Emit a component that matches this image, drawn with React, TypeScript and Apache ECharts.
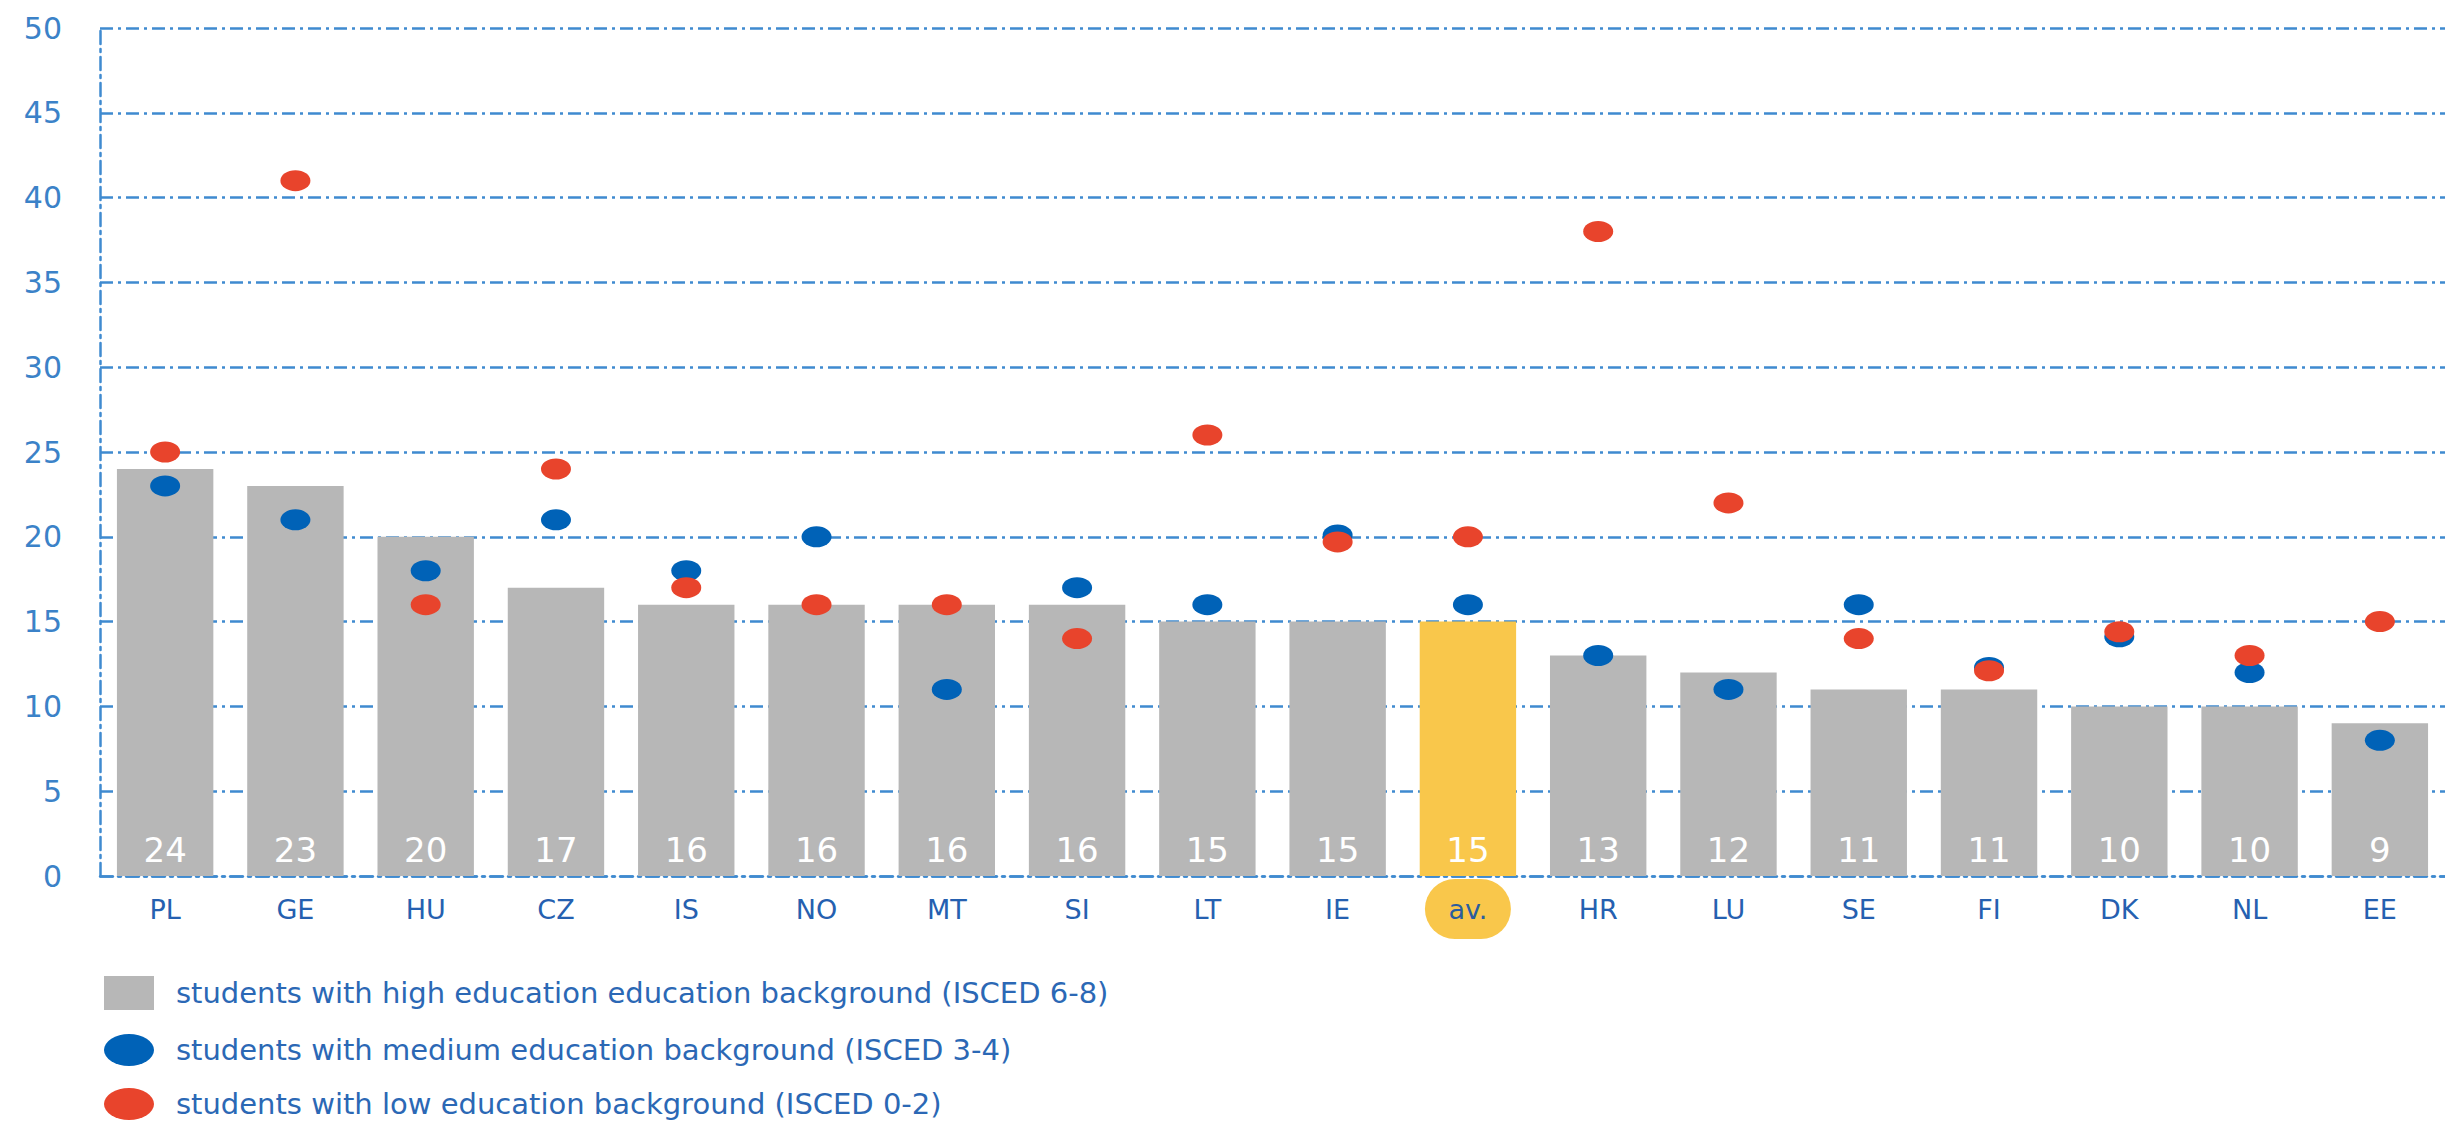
import React, { useEffect, useRef } from "react";
import * as echarts from "echarts";

const categories = ["PL", "GE", "HU", "CZ", "IS", "NO", "MT", "SI", "LT", "IE", "av.", "HR", "LU", "SE", "FI", "DK", "NL", "EE"];
const highValues = [24, 23, 20, 17, 16, 16, 16, 16, 15, 15, 15, 13, 12, 11, 11, 10, 10, 9];
const mediumValues = [23, 21, 18, 21, 18, 20, 11, 17, 16, 20.1, 16, 13, 11, 16, 12.3, 14.1, 12, 8];
const lowValues = [25, 41, 16, 24, 17, 16, 16, 14, 26, 19.7, 20, 38, 22, 14, 12.1, 14.4, 13, 15];
const yTicks = { min: 0, max: 50, interval: 5 };
const seriesNames = [
  "students with high education education background (ISCED 6-8)",
  "students with medium education background (ISCED 3-4)",
  "students with low education background (ISCED 0-2)",
];

const GRAY = "#b7b7b7";
const YELLOW = "#f9c74b";
const BLUE_DOT = "#0062b7";
const RED_DOT = "#e8442c";
const GRID_BLUE = "#3f8ad0";
const FONT = "DejaVu Sans";
const ELLIPSE = "path://M50 0A50 50 0 1 1 50 100A50 50 0 1 1 50 0Z";
const DASHDOT = [13, 5, 3, 5];

const legendIcons = ["rect", ELLIPSE, ELLIPSE];
const legendTops = [976, 1034, 1088];

export default function App() {
  const ref = useRef<HTMLDivElement>(null);
  useEffect(() => {
    if (!ref.current) return;
    const chart = echarts.init(ref.current, null, { renderer: "svg" });
    chart.setOption({
      animation: false,
      backgroundColor: "#ffffff",
      grid: { left: 100, top: 28, right: -8, bottom: 249, containLabel: false },
      legend: seriesNames.map((name, i) => ({
        orient: "horizontal",
        left: 104,
        top: legendTops[i],
        padding: 0,
        itemWidth: 50,
        itemHeight: i === 0 ? 34 : 32,
        symbolKeepAspect: false,
        textStyle: { fontFamily: FONT, fontSize: 29, color: "#2b68b5", padding: [0, 0, 0, 17] },
        data: [{ name, icon: legendIcons[i] }],
      })),
      xAxis: {
        type: "category",
        data: categories,
        axisLine: { show: true, lineStyle: { color: GRID_BLUE, width: 2.5, type: DASHDOT } },
        axisTick: { show: false },
        axisLabel: {
          margin: 3,
          interval: 0,
          formatter: (v: string) => (v === "av." ? `{a|${v}}` : `{n|${v}}`),
          rich: {
            n: { fontFamily: FONT, fontSize: 27, color: "#2560b0", height: 60, lineHeight: 60, align: "center" },
            a: {
              fontFamily: FONT,
              fontSize: 27,
              color: "#2b5d9e",
              height: 60,
              lineHeight: 60,
              width: 86,
              align: "center",
              backgroundColor: YELLOW,
              borderRadius: 30,
            },
          },
        },
      },
      yAxis: {
        type: "value",
        min: yTicks.min,
        max: yTicks.max,
        interval: yTicks.interval,
        axisLine: { show: true, lineStyle: { color: GRID_BLUE, width: 2.5, type: DASHDOT } },
        axisTick: { show: false },
        axisLabel: { fontFamily: FONT, fontSize: 30, color: "#3b82c8", margin: 38 },
        splitLine: { show: true, lineStyle: { color: GRID_BLUE, width: 2.5, type: DASHDOT } },
      },
      series: [
        {
          name: seriesNames[0],
          type: "bar",
          barWidth: "74%",
          itemStyle: { color: GRAY },
          data: highValues.map((v, i) => (categories[i] === "av." ? { value: v, itemStyle: { color: YELLOW } } : v)),
          label: {
            show: true,
            position: "insideBottom",
            distance: 9,
            color: "#ffffff",
            fontFamily: FONT,
            fontSize: 34,
          },
          z: 2,
        },
        {
          name: seriesNames[1],
          type: "scatter",
          symbol: ELLIPSE,
          symbolSize: [30, 21],
          itemStyle: { color: BLUE_DOT, opacity: 1 },
          data: mediumValues,
          z: 3,
        },
        {
          name: seriesNames[2],
          type: "scatter",
          symbol: ELLIPSE,
          symbolSize: [30, 21],
          itemStyle: { color: RED_DOT, opacity: 1 },
          data: lowValues,
          z: 4,
        },
      ],
    });
    return () => chart.dispose();
  }, []);
  return <div ref={ref} style={{ position: "fixed", left: 0, top: 0, width: 2445, height: 1125 }} />;
}
